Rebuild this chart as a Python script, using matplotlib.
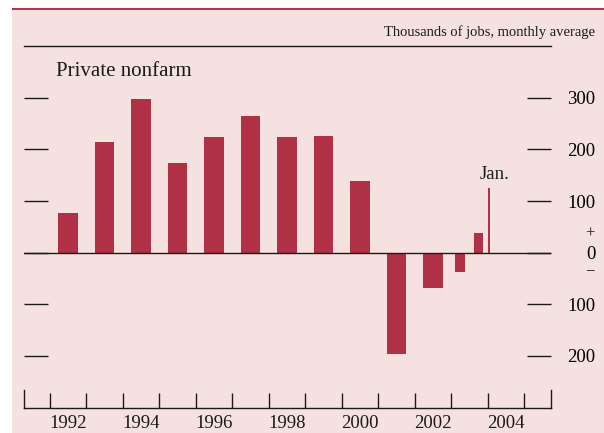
import matplotlib
matplotlib.use("Agg")
import matplotlib.pyplot as plt
from matplotlib.patches import Rectangle
from matplotlib.ticker import FixedLocator, NullFormatter

plt.rcParams["font.family"] = ["Liberation Serif", "DejaVu Serif"]

# annual averages, then the two halves of 2003, then January 2004
periods = ["1992", "1993", "1994", "1995", "1996", "1997", "1998", "1999",
           "2000", "2001", "2002", "2003 H1", "2003 H2", "Jan. 2004"]
x_mid = [1992.5, 1993.5, 1994.5, 1995.5, 1996.5, 1997.5, 1998.5, 1999.5,
         2000.5, 2001.5, 2002.5, 2003.25, 2003.75, 2004.04]
jobs = [77, 214, 298, 174, 224, 264, 224, 226, 138, -196, -68, -37, 39, 125]
widths = [0.53] * 11 + [0.27, 0.27, 0.05]

year_labels = [1992, 1994, 1996, 1998, 2000, 2002, 2004]
year_bounds = list(range(1992, 2006))
y_ticks = [-200, -100, 0, 100, 200, 300]
y_ticklabels = ["200", "100", "0", "100", "200", "300"]

bar_color = "#B03046"
bg = "#F5E1DF"
ink = "#1a1a1a"

W, H = 604, 433
fig = plt.figure(figsize=(W / 100, H / 100), dpi=100, facecolor="white")

# pink panel and red rule at the top
fig.patches.append(Rectangle((12 / W, 0), 1 - 12 / W, 1 - 8 / H,
                             transform=fig.transFigure, facecolor=bg,
                             edgecolor="none", zorder=-2))
fig.patches.append(Rectangle((12 / W, 1 - 10 / H), 1 - 12 / W, 2.5 / H,
                             transform=fig.transFigure, facecolor="#B5364A",
                             edgecolor="none", zorder=-1))

ax = fig.add_axes([24 / W, 25 / H, (551 - 24) / W, (408 - 46) / H])
ax.set_facecolor("none")
ax.set_zorder(2)

ax.bar(x_mid, jobs, width=widths, color=bar_color, zorder=2)
ax.axhline(0, color=ink, lw=1.0, zorder=3)

ax.set_xlim(1991.29, 2005.74)
ax.set_ylim(-301, 400.5)

for s in ["top", "bottom", "left", "right"]:
    ax.spines[s].set_color(ink)
    ax.spines[s].set_linewidth(1.0)
for s in ["left", "right"]:
    ax.spines[s].set_bounds(-301, -266)

# x axis: year boundaries as ticks, labels centered in years
ax.xaxis.set_major_locator(FixedLocator([y + 0.5 for y in year_labels]))
ax.set_xticklabels([str(y) for y in year_labels])
ax.xaxis.set_minor_locator(FixedLocator(year_bounds))
ax.xaxis.set_minor_formatter(NullFormatter())
ax.tick_params(axis="x", which="major", length=0, labelsize=13.5, pad=5,
               colors=ink)
ax.tick_params(axis="x", which="minor", direction="in", length=10.8,
               width=1.0, color=ink, top=False)

# y axis: short dashes at both sides, labels on the right
ax.set_yticks(y_ticks)
ax.set_yticklabels(y_ticklabels)
ax.tick_params(axis="y", direction="in", length=17.3, width=1.0, color=ink,
               left=True, right=True, labelleft=False, labelright=True,
               labelsize=13.5, pad=32)
for lab in ax.get_yticklabels():
    lab.set_horizontalalignment("right")

# sign marks around zero
ax.annotate("+", xy=(1, 0), xycoords=("axes fraction", "data"),
            xytext=(28, 13.5), textcoords="offset points",
            ha="center", va="center", fontsize=12, color=ink)
ax.annotate("\u2212", xy=(1, 0), xycoords=("axes fraction", "data"),
            xytext=(28, -13), textcoords="offset points",
            ha="center", va="center", fontsize=12, color=ink)

ax.annotate("Jan.", xy=(x_mid[-1], jobs[-1]), xytext=(4, 10),
            textcoords="offset points", ha="center", va="center",
            fontsize=13.5, color=ink)

fig.text(595 / W, 1 - 32 / H, "Thousands of jobs, monthly average",
         ha="right", va="center", fontsize=10.5, color=ink)
fig.text(56 / W, 1 - 72 / H, "Private nonfarm", ha="left", va="center",
         fontsize=15, color=ink)

fig.savefig("out.png", dpi=100, facecolor="white")
